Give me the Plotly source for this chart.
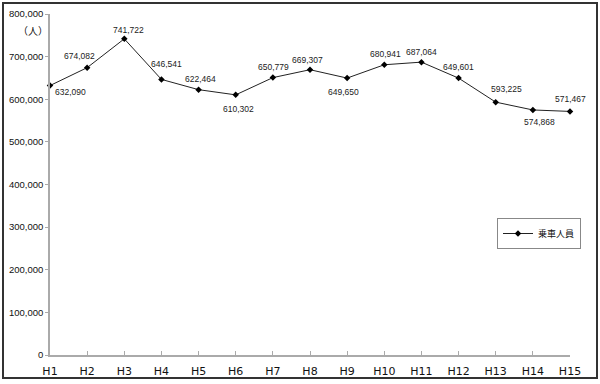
import plotly.graph_objects as go

years = ["H1", "H2", "H3", "H4", "H5", "H6", "H7", "H8", "H9", "H10", "H11", "H12", "H13", "H14", "H15"]
riders = [632090, 674082, 741722, 646541, 622464, 610302, 650779, 669307, 649650, 680941, 687064, 649601, 593225, 574868, 571467]
# label placement: (x shift px, y shift px) per point
label_shift = [(20, -6), (-8, 12), (4, 9), (5, 15), (2, 11), (3, -14), (1, 11), (-3, 10), (-4, -14),
               (1, 11), (0, 10), (0, 11), (11, 13), (7, -12), (0, 12)]
y_ticks = [0, 100000, 200000, 300000, 400000, 500000, 600000, 700000, 800000]

font_family = "DejaVu Sans, sans-serif"

fig = go.Figure()
fig.add_trace(go.Scatter(
    x=years, y=riders, mode="lines+markers", name="乗車人員",
    line=dict(color="#222222", width=1),
    marker=dict(color="#000000", size=5, symbol="diamond"),
    cliponaxis=False,
))

annotations = []
for yr, v, (dx, dy) in zip(years, riders, label_shift):
    annotations.append(dict(x=yr, y=v, text=f"{v:,}", showarrow=False, xshift=dx, yshift=dy,
                            font=dict(size=8.5, color="#222222",
                                      family="Liberation Sans, Arial, sans-serif")))

H, T, B = 384, 14, 29
ph = H - T - B
L, R = 50, 30
pw = 600 - L - R

def px(p):
    return (p - L) / pw

def py(p):
    return (H - B - p) / ph

annotations.append(dict(text="（人）", x=px(33), y=py(31), xref="paper", yref="paper",
                        xanchor="center", yanchor="middle",
                        showarrow=False, font=dict(size=10, color="#111111",
                                                   family="Noto Sans CJK JP, sans-serif")))

fig.update_layout(
    width=600, height=384,
    margin=dict(l=L, r=R, t=T, b=B, autoexpand=False),
    paper_bgcolor="white", plot_bgcolor="white",
    font=dict(family=font_family, color="#111111"),
    showlegend=True,
    legend=dict(x=px(497), y=py(218), xanchor="left", yanchor="top",
                bordercolor="#888888", borderwidth=1, bgcolor="white",
                font=dict(size=9, color="#111111", family="Noto Sans CJK JP, sans-serif"),
                itemwidth=30, tracegroupgap=0),
    xaxis=dict(type="category", range=[0, 14], showline=True, linecolor="#aaaaaa", linewidth=1.5,
               ticks="inside", ticklen=4, tickcolor="#aaaaaa", showgrid=False, zeroline=False,
               automargin=False,
               tickfont=dict(size=11, color="#111111", family="DejaVu Sans, sans-serif"),
               ticklabelstandoff=5),
    yaxis=dict(range=[0, 800000], tickvals=y_ticks, ticktext=[f"{v:,}" for v in y_ticks],
               showline=True, linecolor="#aaaaaa", linewidth=1.5, ticks="outside", ticklen=3,
               tickcolor="#aaaaaa", showgrid=False, zeroline=False, automargin=False,
               tickfont=dict(size=9.5, color="#111111", family="Liberation Sans, Arial, sans-serif")),
    annotations=annotations,
    shapes=[dict(type="rect", xref="paper", yref="paper",
                 x0=px(3), x1=px(597), y0=py(378), y1=py(3),
                 line=dict(color="#333333", width=2))],
)

fig.write_html("out.html", config={"displayModeBar": False},
               post_script="document.body.style.margin='0';document.body.style.padding='0';")
